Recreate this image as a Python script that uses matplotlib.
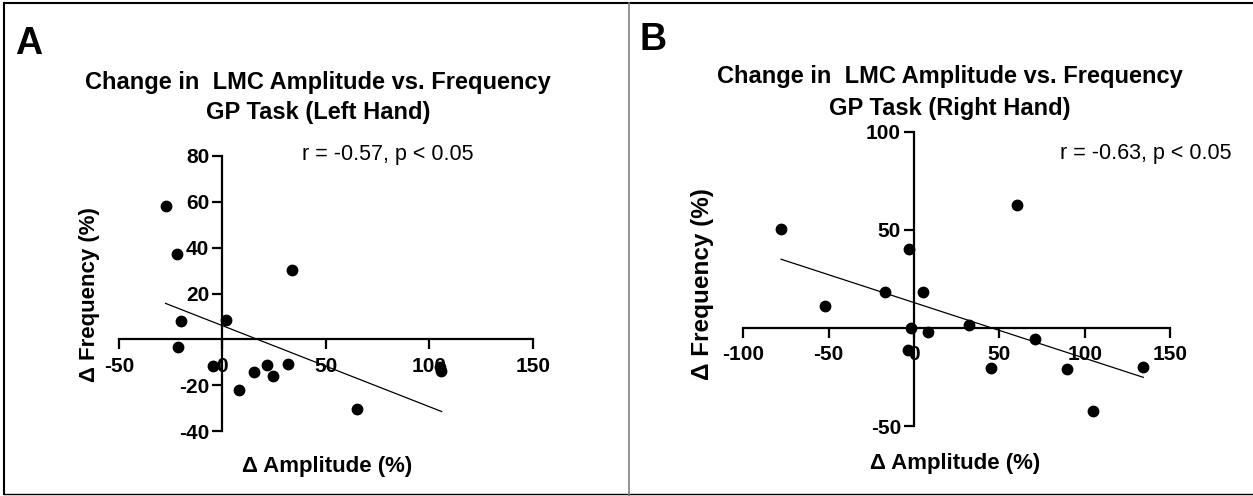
import matplotlib
matplotlib.use("Agg")
import matplotlib.pyplot as plt
from matplotlib.lines import Line2D

# ---------------- data ----------------
left_amp = [-27.5, -22.2, -19.9, -21.5, -4.5, 1.8, 7.8, 15.2, 21.7, 24.3, 31.9, 33.7, 64.9, 105.0, 105.5]
left_freq = [58.3, 37.4, 8.0, -3.5, -11.7, 8.3, -22.0, -14.3, -11.2, -15.9, -10.6, 30.1, -30.4, -12.0, -13.8]
left_fit_x = [-27.5, 106.0]
left_fit_y = [15.7, -31.4]

right_amp = [-77.9, -52.1, -17.0, -2.7, -2.0, -3.3, 5.1, 8.2, 32.4, 60.2, 45.3, 70.9, 89.6, 104.5, 134.2]
right_freq = [50.2, 11.4, 18.5, 40.1, -0.3, -11.2, 18.5, -2.2, 1.5, 62.4, -20.6, -5.6, -20.9, -42.5, -20.1]
right_fit_x = [-77.9, 134.2]
right_fit_y = [35.0, -25.2]

left_xticks = [-50, 0, 50, 100, 150]
left_yticks = [-40, -20, 20, 40, 60, 80]
right_xticks = [-100, -50, 0, 50, 100, 150]
right_yticks = [-50, 50, 100]

W, H = 1253, 496
fig = plt.figure(figsize=(W / 100, H / 100), dpi=100)
fig.patch.set_facecolor("white")

BOLD = ["Liberation Sans", "DejaVu Sans"]
NARROW = ["Liberation Sans Narrow", "Liberation Sans", "DejaVu Sans"]


def fx(px):
    return px / W


def fy(py):
    return 1 - py / H


def make_axes(rect, xlim, ylim, xticks, yticks):
    ax = fig.add_axes(rect)
    ax.set_xlim(*xlim)
    ax.set_ylim(*ylim)
    for s in ["top", "right"]:
        ax.spines[s].set_visible(False)
    ax.spines["left"].set_position(("data", 0))
    ax.spines["bottom"].set_position(("data", 0))
    for s in ["left", "bottom"]:
        ax.spines[s].set_linewidth(1.6)
    ax.set_xticks(xticks)
    ax.set_yticks(yticks)
    ax.set_xticklabels([str(t) for t in xticks])
    ax.set_yticklabels([str(t) for t in yticks])
    ax.tick_params(axis="both", direction="out", length=7.5, width=1.6,
                   labelsize=15)
    ax.tick_params(axis="x", pad=5)
    ax.tick_params(axis="y", pad=2)
    for lab in ax.get_xticklabels() + ax.get_yticklabels():
        lab.set_fontweight("bold")
        lab.set_family(BOLD)
    ax.patch.set_alpha(0)
    return ax


# left panel
axL = make_axes([fx(119), fy(431.3), (532.7 - 119) / W, (431.3 - 155.7) / H],
                (-50, 150), (-40, 80), left_xticks, left_yticks)
axL.scatter(left_amp, left_freq, s=56, color="black", zorder=3, clip_on=False)
axL.plot(left_fit_x, left_fit_y, color="black", lw=0.9, zorder=2)

# right panel
axR = make_axes([fx(743.3), fy(426), (1170.3 - 743.3) / W, (426 - 131.7) / H],
                (-100, 150), (-50, 100), right_xticks, right_yticks)
axR.scatter(right_amp, right_freq, s=56, color="black", zorder=3, clip_on=False)
axR.plot(right_fit_x, right_fit_y, color="black", lw=0.9, zorder=2)

# panel letters
fig.text(fx(15), fy(54), "A", fontsize=27, fontweight="bold", family=BOLD, va="baseline")
fig.text(fx(640), fy(50), "B", fontsize=27, fontweight="bold", family=BOLD, va="baseline")

# titles
fig.text(fx(318), fy(82), "Change in  LMC Amplitude vs. Frequency", fontsize=17,
         fontweight="bold", family=NARROW, ha="center", va="center")
fig.text(fx(318), fy(113), "GP Task (Left Hand)", fontsize=17,
         fontweight="bold", family=NARROW, ha="center", va="center")
fig.text(fx(950), fy(77), "Change in  LMC Amplitude vs. Frequency", fontsize=17,
         fontweight="bold", family=NARROW, ha="center", va="center")
fig.text(fx(950), fy(108), "GP Task (Right Hand)", fontsize=17,
         fontweight="bold", family=NARROW, ha="center", va="center")

# stats
fig.text(fx(302), fy(160), "r = -0.57, p < 0.05", fontsize=15.5, family=BOLD, va="baseline")
fig.text(fx(1060), fy(159), "r = -0.63, p < 0.05", fontsize=15.5, family=BOLD, va="baseline")

# axis labels
fig.text(fx(327), fy(472), "\u0394 Amplitude (%)", fontsize=16, fontweight="bold",
         family=BOLD, ha="center", va="baseline")
fig.text(fx(955), fy(469), "\u0394 Amplitude (%)", fontsize=16, fontweight="bold",
         family=BOLD, ha="center", va="baseline")
fig.text(fx(90), fy(295), "\u0394 Frequency (%)", fontsize=16, fontweight="bold",
         family=BOLD, ha="center", va="center", rotation=90)
fig.text(fx(703), fy(284), "\u0394 Frequency (%)", fontsize=17.5, fontweight="bold",
         family=BOLD, ha="center", va="center", rotation=90)

# frame lines
fig.add_artist(Line2D([fx(4), fx(1253)], [fy(3), fy(3)], color="black", lw=1.5))
fig.add_artist(Line2D([fx(4), fx(4)], [fy(3), fy(494)], color="black", lw=1.5))
fig.add_artist(Line2D([fx(4), fx(1253)], [fy(494), fy(494)], color="black", lw=1.0))
fig.add_artist(Line2D([fx(629), fx(629)], [fy(3), fy(496)], color="#808080", lw=1.2))

fig.savefig("out.png", dpi=100, facecolor="white")
